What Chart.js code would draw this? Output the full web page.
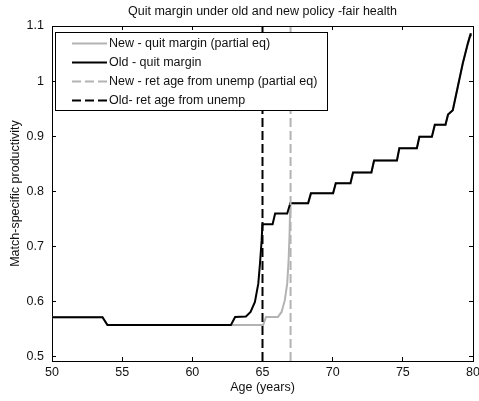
<!DOCTYPE html>
<html>
<head>
<meta charset="utf-8">
<title>Quit margin under old and new policy</title>
<script src="https://cdn.jsdelivr.net/npm/chart.js@4.4.1/dist/chart.umd.min.js"></script>
<style>
  html, body { margin: 0; padding: 0; background: #fff; }
  #wrap { width: 479px; height: 401px; position: relative; }
</style>
</head>
<body>
<div id="wrap"><canvas id="c"></canvas></div>
<script>
// Age grid and quit-margin values, old policy
const oldAges = [50, 53.6, 53.95, 62.75, 63.05, 63.82, 64.15, 64.46, 64.70, 64.82, 64.94, 64.99,
  65.0, 65.72, 65.9, 66.76, 66.98, 68.25, 68.45, 70.03, 70.22, 71.27, 71.45, 72.76, 72.95,
  74.58, 74.75, 76.0, 76.18, 77.07, 77.28, 78.04, 78.22, 78.56, 78.92, 79.27, 79.63, 79.8, 79.83];
const oldMargins = [0.571, 0.571, 0.557, 0.557, 0.5715, 0.5725, 0.5806, 0.5988, 0.632, 0.6685, 0.711, 0.738,
  0.740, 0.740, 0.7595, 0.7595, 0.778, 0.778, 0.796, 0.796, 0.8145, 0.8145, 0.834, 0.834, 0.8558,
  0.8558, 0.878, 0.878, 0.8988, 0.8988, 0.9206, 0.9206, 0.939, 0.947, 0.990, 1.032, 1.068, 1.083, 1.087];

// New policy (partial equilibrium) up to age 67; afterwards it coincides with the old curve
const newAges = [50, 53.6, 53.95, 65.05, 65.25, 66.1, 66.36, 66.59, 66.76, 66.86, 66.93, 66.97, 67.0];
const newMargins = [0.571, 0.571, 0.557, 0.557, 0.5715, 0.5715, 0.5806, 0.602, 0.632, 0.6745, 0.723, 0.7685, 0.778];

// Retirement age from unemployment
const retAgeNew = 67;
const retAgeOld = 65;

// Axis ranges and tick labels
const ageRange = [50, 80];
const prodRange = [0.4915, 1.1];
const ageTicks = [50, 55, 60, 65, 70, 75, 80];
const prodTicks = [0.5, 0.6, 0.7, 0.8, 0.9, 1.0, 1.1];

const labels = [
  'New - quit margin (partial eq)',
  'Old - quit margin',
  'New - ret age from unemp (partial eq)',
  'Old- ret age from unemp'
];

const toPoints = (xs, ys) => xs.map((x, i) => ({ x: x, y: ys[i] }));
const oldSeries = toPoints(oldAges, oldMargins);
const newSeries = toPoints(newAges, newMargins)
  .concat(oldSeries.filter(p => p.x > newAges[newAges.length - 1]));
const vline = age => [{ x: age, y: prodRange[0] }, { x: age, y: prodRange[1] }];

const FONT = { family: '"Liberation Sans", Arial, sans-serif', size: 12.5, weight: 'normal' };
const TEXT = '#111';
const GRAY = '#b3b3b3';

// Legend drawn as an opaque box inside the plot, as in MATLAB
const boxLegend = {
  id: 'boxLegend',
  afterDraw(chart) {
    const ctx = chart.ctx;
    const L = 55, T = 32, W = 272, H = 78;
    ctx.save();
    ctx.fillStyle = '#fff';
    ctx.fillRect(L, T, W, H);
    ctx.strokeStyle = '#000';
    ctx.lineWidth = 1;
    ctx.strokeRect(L + 0.5, T + 0.5, W, H);
    chart.data.datasets.forEach((ds, i) => {
      const y = T + 11.5 + i * 19;
      ctx.beginPath();
      ctx.setLineDash(ds.borderDash || []);
      ctx.strokeStyle = ds.borderColor;
      ctx.lineWidth = ds.borderWidth;
      ctx.moveTo(L + 17, y);
      ctx.lineTo(L + 52, y);
      ctx.stroke();
      ctx.setLineDash([]);
      ctx.fillStyle = TEXT;
      ctx.font = FONT.size + 'px ' + FONT.family;
      ctx.textBaseline = 'middle';
      ctx.textAlign = 'left';
      ctx.fillText(ds.label, L + 54, y);
    });
    ctx.restore();
  }
};

const tickGrid = { drawOnChartArea: false, drawTicks: true, tickLength: -4, color: '#000', lineWidth: 1 };
const axisBorder = { display: true, color: '#000', width: 1 };
const noPad = s => { s.paddingLeft = 0; s.paddingRight = 0; s.paddingTop = 0; s.paddingBottom = 0; };

new Chart(document.getElementById('c'), {
  type: 'line',
  data: {
    datasets: [
      { label: labels[0], data: newSeries, borderColor: GRAY, borderWidth: 2, order: 3 },
      { label: labels[1], data: oldSeries, borderColor: '#000', borderWidth: 2, order: 2 },
      { label: labels[2], data: vline(retAgeNew), borderColor: GRAY, borderWidth: 2, borderDash: [9, 4], order: 1 },
      { label: labels[3], data: vline(retAgeOld), borderColor: '#000', borderWidth: 2, borderDash: [9, 4], order: 0 }
    ]
  },
  options: {
    responsive: true,
    maintainAspectRatio: false,
    animation: false,
    layout: { padding: 0 },
    elements: { point: { radius: 0 }, line: { tension: 0, fill: false } },
    plugins: {
      legend: { display: false },
      tooltip: { enabled: false },
      title: {
        display: true,
        fullSize: false,
        text: 'Quit margin under old and new policy -fair health',
        color: TEXT,
        font: FONT,
        padding: { top: 4.5, bottom: 6.5 }
      }
    },
    scales: {
      x: {
        type: 'linear', position: 'bottom', min: ageRange[0], max: ageRange[1],
        afterBuildTicks: s => { s.ticks = ageTicks.map(v => ({ value: v })); },
        afterFit: s => { s.height = 40; noPad(s); },
        ticks: { color: TEXT, font: FONT, padding: 8, maxRotation: 0, autoSkip: false },
        grid: tickGrid, border: axisBorder,
        title: { display: true, text: 'Age (years)', color: TEXT, font: FONT, padding: { top: 0, bottom: 6 } }
      },
      x2: {
        type: 'linear', position: 'top', min: ageRange[0], max: ageRange[1],
        afterBuildTicks: s => { s.ticks = ageTicks.map(v => ({ value: v })); },
        afterFit: s => { s.height = 0; noPad(s); },
        ticks: { display: false },
        grid: tickGrid, border: axisBorder
      },
      y: {
        type: 'linear', position: 'left', min: prodRange[0], max: prodRange[1],
        afterBuildTicks: s => { s.ticks = prodTicks.map(v => ({ value: v })); },
        afterFit: s => { s.width = 52; noPad(s); },
        ticks: { color: TEXT, font: FONT, padding: 12, callback: v => String(Math.round(v * 10) / 10) },
        grid: tickGrid, border: axisBorder,
        title: { display: true, text: 'Match-specific productivity', color: TEXT, font: FONT, padding: { top: 8, bottom: 0 } }
      },
      y2: {
        type: 'linear', position: 'right', min: prodRange[0], max: prodRange[1],
        afterBuildTicks: s => { s.ticks = prodTicks.map(v => ({ value: v })); },
        afterFit: s => { s.width = 6; noPad(s); },
        ticks: { display: false },
        grid: tickGrid, border: axisBorder
      }
    }
  },
  plugins: [boxLegend]
});
</script>
</body>
</html>
